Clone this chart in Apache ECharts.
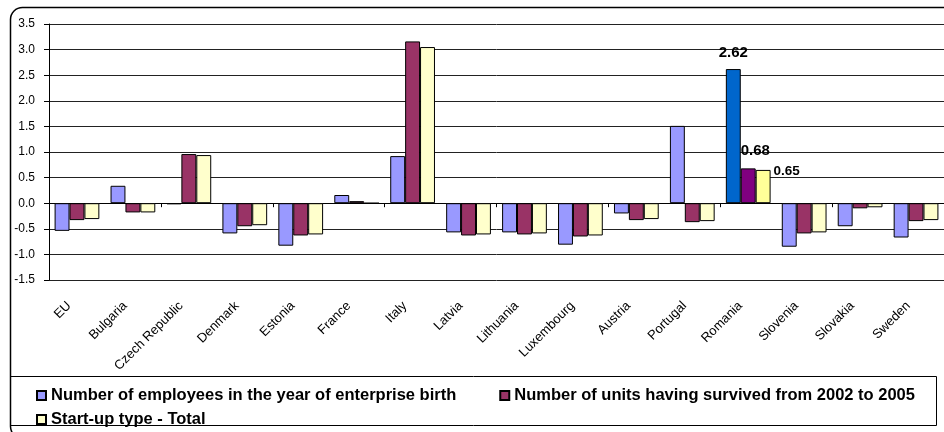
<!DOCTYPE html>
<html>
<head>
<meta charset="utf-8">
<script src="https://cdn.jsdelivr.net/npm/echarts@6/dist/echarts.min.js"></script>
<style>
  html, body { margin: 0; padding: 0; background: #fff; }
  #chart { width: 944px; height: 432px; }
</style>
</head>
<body>
<div id="chart"></div>
<script>
// Country categories along the x axis
const categories = ['EU', 'Bulgaria', 'Czech Republic', 'Denmark', 'Estonia', 'France', 'Italy',
  'Latvia', 'Lithuania', 'Luxembourg', 'Austria', 'Portugal', 'Romania', 'Slovenia', 'Slovakia', 'Sweden'];

// Series values
const employees = [-0.54, 0.34, -0.02, -0.59, -0.83, 0.16, 0.92, -0.57, -0.57, -0.81, -0.20, 1.51, 2.62, -0.85, -0.45, -0.67];
const survived  = [-0.33, -0.18, 0.96, -0.45, -0.63, 0.04, 3.16, -0.63, -0.61, -0.65, -0.33, -0.37, 0.68, -0.59, -0.10, -0.35];
const startup   = [-0.31, -0.18, 0.94, -0.43, -0.61, 0.00, 3.05, -0.61, -0.59, -0.63, -0.31, -0.35, 0.65, -0.57, -0.08, -0.33];

const seriesNames = [
  'Number of employees in the year of enterprise birth',
  'Number of units having survived from 2002 to 2005',
  'Start-up type - Total'
];

// Value axis ticks
const yMin = -1.5, yMax = 3.5, yStep = 0.5;

const FONT = '"Liberation Sans", Arial, sans-serif';
const baseColors = ['#9999FF', '#993366', '#FFFFCC'];
const highlightColors = ['#0066CC', '#800080', '#FFFF99'];
const highlightIndex = categories.indexOf('Romania');

// Value label placement for the highlighted country
const highlightLabels = [
  { show: true, position: 'top', distance: 9, fontSize: 15 },
  { show: true, position: [0, 0], align: 'left', verticalAlign: 'bottom', offset: [0, -10], fontSize: 15 },
  { show: true, position: ['100%', 0], align: 'left', verticalAlign: 'middle', offset: [3, 1], fontSize: 13.5 }
];

function buildSeries(values, idx) {
  return {
    name: seriesNames[idx],
    type: 'bar',
    xAxisIndex: 0,
    barGap: '0%',
    barCategoryGap: '20%',
    itemStyle: { color: baseColors[idx], borderColor: '#000', borderWidth: 1 },
    data: values.map((v, i) => {
      if (i !== highlightIndex) return v;
      return {
        value: v,
        itemStyle: { color: highlightColors[idx] },
        label: Object.assign({
          fontFamily: FONT, fontWeight: 'bold', color: '#000',
          formatter: (p) => p.value.toFixed(2)
        }, highlightLabels[idx])
      };
    }),
    animation: false
  };
}

const legendText = { fontFamily: FONT, fontWeight: 'bold', fontSize: 16.5, color: '#000' };

const chart = echarts.init(document.getElementById('chart'), null, { renderer: 'canvas' });

chart.setOption({
  backgroundColor: '#fff',
  animation: false,
  textStyle: { fontFamily: FONT },
  grid: { left: 49, top: 24, width: 899, height: 256, containLabel: false },
  legend: [
    {
      data: [seriesNames[0], seriesNames[1]],
      left: 31, top: 382, orient: 'horizontal',
      itemWidth: 9, itemHeight: 9, itemGap: 43,
      icon: 'rect',
      textStyle: legendText,
      selectedMode: false
    },
    {
      data: [seriesNames[2]],
      left: 31, top: 406, orient: 'horizontal',
      itemWidth: 9, itemHeight: 9,
      icon: 'rect',
      textStyle: legendText,
      selectedMode: false
    }
  ],
  xAxis: [
    {
      type: 'category',
      data: categories,
      position: 'bottom',
      axisLine: { show: false, onZero: false },
      axisTick: { show: false },
      axisLabel: {
        interval: 0, rotate: 45, margin: 16, padding: [0, 11, 0, 0],
        fontSize: 13, color: '#000', fontFamily: FONT
      }
    },
    {
      type: 'category',
      data: categories,
      position: 'bottom',
      axisLine: { show: true, onZero: true, lineStyle: { color: '#000', width: 1 } },
      axisTick: { show: true, inside: false, length: 4, lineStyle: { color: '#000' } },
      axisLabel: { show: false }
    }
  ],
  yAxis: {
    type: 'value',
    min: yMin, max: yMax, interval: yStep,
    axisLine: { show: true, lineStyle: { color: '#000', width: 1 } },
    axisTick: { show: true, length: 5, lineStyle: { color: '#000' } },
    axisLabel: {
      margin: 14, fontSize: 12, color: '#000', fontFamily: FONT,
      formatter: (v) => v.toFixed(1)
    },
    splitLine: { show: true, lineStyle: { color: '#222', width: 1 } }
  },
  series: [
    buildSeries(employees, 0),
    buildSeries(survived, 1),
    buildSeries(startup, 2)
  ],
  graphic: [
    {
      // outer chart frame with rounded corners
      type: 'rect', silent: true, z: 100,
      shape: { x: 10.5, y: 7.5, width: 980, height: 431, r: 12 },
      style: { fill: null, stroke: '#000', lineWidth: 1.5 }
    },
    {
      // legend box
      type: 'rect', silent: true, z: 100,
      shape: { x: 10.5, y: 376.5, width: 926, height: 49 },
      style: { fill: null, stroke: '#000', lineWidth: 1 }
    }
  ]
});
</script>
</body>
</html>
